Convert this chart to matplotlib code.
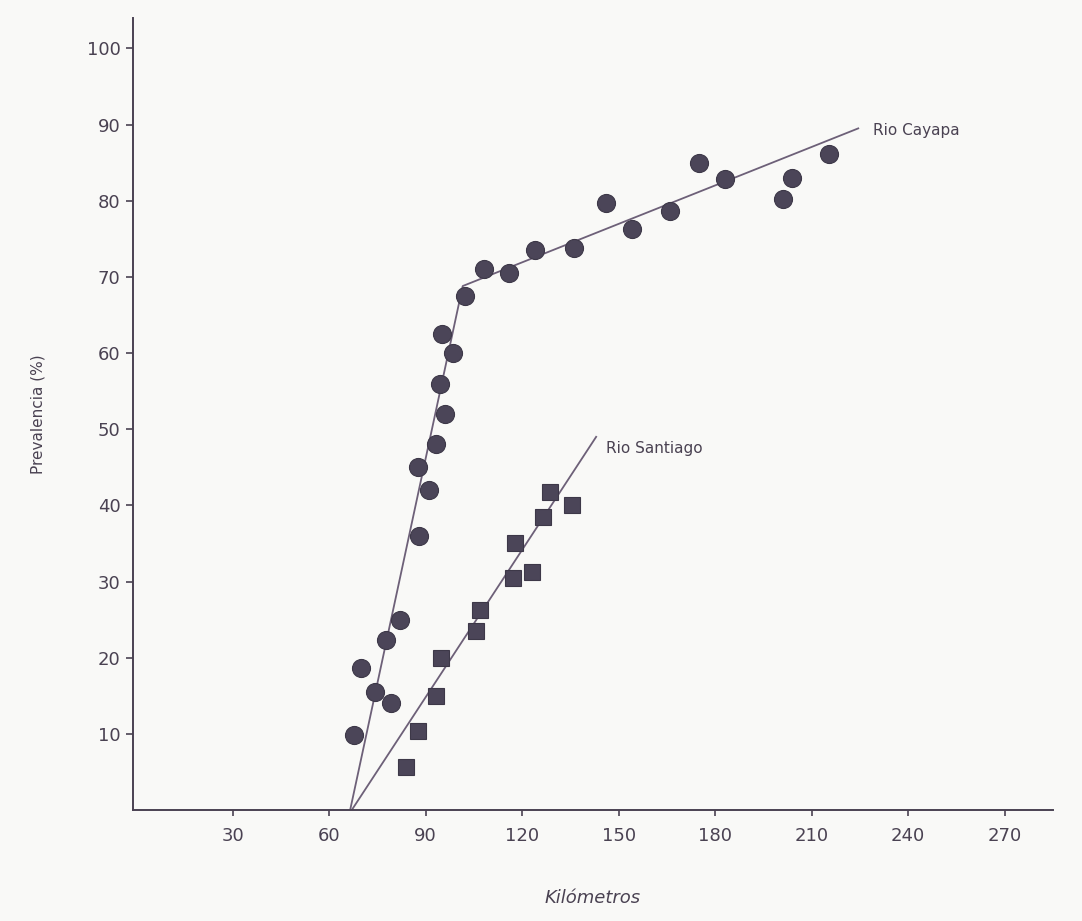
import matplotlib
matplotlib.use("Agg")
import matplotlib.pyplot as plt

# Rio Cayapa (circles): km, prevalence %
cay_km = [67.7, 69.9, 74.2, 77.6, 79.2, 82.0, 87.9, 91.0, 87.6, 93.2, 96.0, 94.4,
          95.0, 98.4, 102.2, 108.0, 116.0, 124.0, 136.0, 146.0, 154.0, 166.0,
          175.0, 183.0, 201.0, 204.0, 215.5]
cay_prev = [9.8, 18.7, 15.5, 22.3, 14.0, 25.0, 36.0, 42.0, 45.0, 48.0, 52.0, 56.0,
            62.5, 60.0, 67.5, 71.0, 70.5, 73.5, 73.8, 79.7, 76.3, 78.6,
            85.0, 82.8, 80.2, 83.0, 86.2]

# Rio Santiago (squares)
san_km = [84.0, 87.6, 93.2, 94.7, 105.6, 107.0, 117.0, 117.7, 123.0, 126.4, 128.6, 135.4]
san_prev = [5.6, 10.4, 15.0, 20.0, 23.5, 26.3, 30.5, 35.0, 31.3, 38.5, 41.8, 40.0]

# fitted lines as drawn in the figure
cay_line_km = [66.5, 101.5, 224.5]
cay_line_prev = [0.0, 68.8, 89.5]
san_line_km = [67.0, 143.0]
san_line_prev = [0.0, 49.0]

xticks = [30, 60, 90, 120, 150, 180, 210, 240, 270]
yticks = [10, 20, 30, 40, 50, 60, 70, 80, 90, 100]

INK = "#4a4252"
LINE = "#6d6078"
MARK = "#4b4558"

fig = plt.figure(figsize=(10.82, 9.21), dpi=100, facecolor="#f9f9f7")
ax = fig.add_axes([0.123, 0.1205, 0.85, 0.86])
ax.set_facecolor("#f9f9f7")

ax.plot(cay_line_km, cay_line_prev, color=LINE, lw=1.3, zorder=2)
ax.plot(san_line_km, san_line_prev, color=LINE, lw=1.3, zorder=2)
ax.plot(cay_km, cay_prev, "o", ms=13, color=MARK, mec="#3d3848", mew=0.8, zorder=3)
ax.plot(san_km, san_prev, "s", ms=11, color=MARK, mec="#3d3848", mew=0.8, zorder=3)

ax.text(229, 89.2, "Rio Cayapa", fontsize=11, color=INK, va="center", ha="left")
ax.text(146, 47.5, "Rio Santiago", fontsize=11, color=INK, va="center", ha="left")

ax.set_xlim(-1, 285)
ax.set_ylim(0, 104)
ax.set_xticks(xticks)
ax.set_yticks(yticks)
ax.tick_params(axis="both", colors=INK, labelsize=13, length=5, width=1.2)
ax.tick_params(axis="x", direction="out", length=4, pad=8)
ax.tick_params(axis="y", direction="out", pad=4)
for s in ("top", "right"):
    ax.spines[s].set_visible(False)
for s in ("left", "bottom"):
    ax.spines[s].set_color(INK)
    ax.spines[s].set_linewidth(1.4)

ax.set_xlabel("Kilómetros", fontsize=13, style="italic", color=INK, labelpad=32)
ax.set_ylabel("Prevalencia (%)", fontsize=11, color=INK, labelpad=30)

fig.savefig("out.png", dpi=100, facecolor=fig.get_facecolor())
